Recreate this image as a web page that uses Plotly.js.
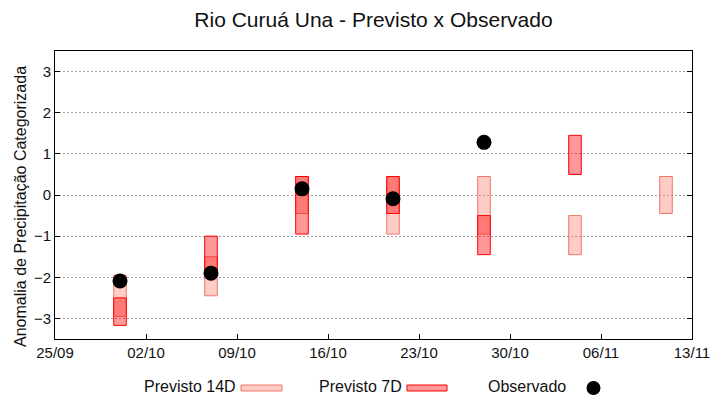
<!DOCTYPE html>
<html><head><meta charset="utf-8">
<script src="https://cdn.plot.ly/plotly-3.0.1.min.js"></script>
<style>html,body{margin:0;padding:0;background:#fff}#chart{width:720px;height:400px}</style>
</head><body><div id="chart"></div>
<script>
// ---- data ----
const dates14 = ['2025-09-30','2025-10-07','2025-10-14','2025-10-21','2025-10-28','2025-11-04','2025-11-11'];
const p14Low  = [-2.95, -2.45, -0.45, -0.95, -0.95, -1.45, -0.45];
const p14High = [-1.95, -1.50,  0.45,  0.45,  0.45, -0.50,  0.45];

const dates7 = ['2025-09-30','2025-10-07','2025-10-14','2025-10-21','2025-10-28','2025-11-04'];
const p7Low  = [-3.17, -1.95, -0.95, -0.45, -1.45, 0.50];
const p7High = [-2.50, -1.00,  0.45,  0.45, -0.50, 1.45];

const datesObs = ['2025-09-30','2025-10-07','2025-10-14','2025-10-21','2025-10-28'];
const obsValues = [-2.09, -1.90, 0.15, -0.09, 1.28];

const xTickDates = ['2025-09-25','2025-10-02','2025-10-09','2025-10-16','2025-10-23','2025-10-30','2025-11-06','2025-11-13'];
const xTickLabels = ['25/09','02/10','09/10','16/10','23/10','30/10','06/11','13/11'];
const yTickVals = [-3,-2,-1,0,1,2,3];

const titleText = 'Rio Curuá Una - Previsto x Observado';
const yTitleText = 'Anomalia de Precipitação Categorizada';
const legendNames = ['Previsto 14D','Previsto 7D','Observado'];

// ---- styles ----
const DAY = 86400000;
const barW = 0.97 * DAY;
const c14Fill = 'rgba(250,128,114,0.4)';
const c14Line = 'rgba(240,112,100,0.95)';
const c7Fill = 'rgba(255,0,0,0.4)';
const c7Line = '#ff0000';

const traces = [
  {type:'bar', name:legendNames[0], x:dates14, base:p14Low,
   y:p14High.map((h,i)=>h-p14Low[i]), width:dates14.map(()=>barW),
   marker:{color:c14Fill, line:{color:c14Line, width:1}}, showlegend:false, hoverinfo:'skip'},
  {type:'bar', name:legendNames[1], x:dates7, base:p7Low,
   y:p7High.map((h,i)=>h-p7Low[i]), width:dates7.map(()=>barW),
   marker:{color:c7Fill, line:{color:c7Line, width:1}}, showlegend:false, hoverinfo:'skip'},
  {type:'scatter', mode:'markers', name:legendNames[2], x:datesObs, y:obsValues,
   marker:{color:'#000', size:15}, showlegend:false, cliponaxis:false}
];

// pixel helpers for the hand-made legend (legend text sits left of its sample)
const L=55, R=692, T=51, B=339;
const px = v => (v - L) / (R - L);
const py = v => (B - v) / (B - T);
const font = 'Liberation Sans, Arial, sans-serif';

const layout = {
  width:720, height:400,
  margin:{l:55, r:28, t:51, b:61},
  paper_bgcolor:'#fff', plot_bgcolor:'#fff',
  font:{family:font, color:'#111', size:15},
  barmode:'overlay',
  title:{text:titleText, font:{size:21, family:font, color:'#111'}, x:0.5, xref:'paper', xanchor:'center',
         y:0.951, yref:'container', yanchor:'middle'},
  xaxis:{type:'date', range:['2025-09-25','2025-11-13'], tickvals:xTickDates, ticktext:xTickLabels,
         ticks:'inside', ticklen:5, tickwidth:1, tickcolor:'#000', showline:true, linecolor:'#000',
         linewidth:1, mirror:true, showgrid:false, zeroline:false, tickfont:{size:15}, fixedrange:true},
  yaxis:{range:[-3.5,3.5], tickvals:yTickVals, ticks:'inside', ticklen:5, tickwidth:1, tickcolor:'#000',
         showline:true, linecolor:'#000', linewidth:1, mirror:'ticks', showgrid:true, gridcolor:'#a0a0a0',
         griddash:'2px,2px', gridwidth:1, zeroline:false, tickfont:{size:15}, fixedrange:true},
  annotations:[
    {text:yTitleText, xref:'paper', yref:'paper', x:px(20.5), y:py(206.5), xanchor:'center', yanchor:'middle',
     textangle:-90, showarrow:false, font:{size:16}},
    {text:legendNames[0], xref:'paper', yref:'paper', x:px(142), y:py(386), xanchor:'left', yanchor:'middle', showarrow:false, font:{size:16}},
    {text:legendNames[1], xref:'paper', yref:'paper', x:px(317), y:py(386), xanchor:'left', yanchor:'middle', showarrow:false, font:{size:16}},
    {text:legendNames[2], xref:'paper', yref:'paper', x:px(486), y:py(386), xanchor:'left', yanchor:'middle', showarrow:false, font:{size:16}}
  ],
  shapes:[
    {type:'rect', xref:'paper', yref:'paper', x0:px(241), x1:px(282), y0:py(391), y1:py(385), fillcolor:c14Fill, line:{color:c14Line, width:1}},
    {type:'rect', xref:'paper', yref:'paper', x0:px(407), x1:px(447), y0:py(391), y1:py(385), fillcolor:c7Fill, line:{color:c7Line, width:1}},
    {type:'circle', xref:'paper', yref:'paper', x0:px(586.5), x1:px(600.5), y0:py(395), y1:py(381), fillcolor:'#000', line:{color:'#000', width:0}}
  ]
};

Plotly.newPlot('chart', traces, layout, {staticPlot:true, displayModeBar:false});
</script>
</body></html>
